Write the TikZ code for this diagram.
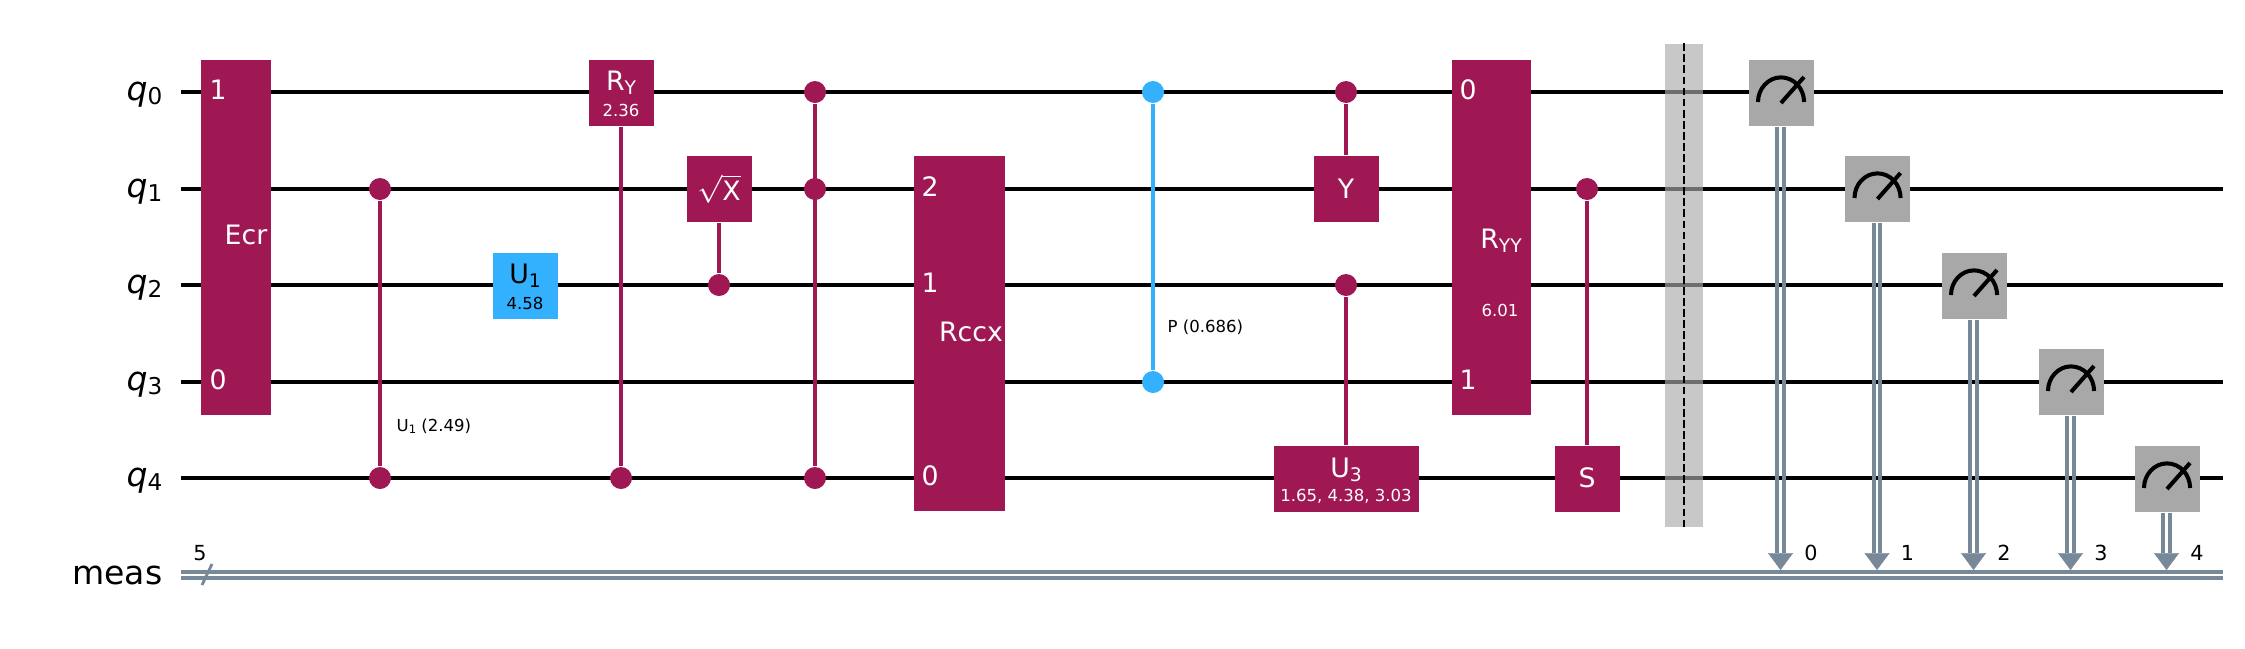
\documentclass[tikz,border=0pt]{standalone}
\usepackage{fontspec}
\setmainfont{DejaVu Sans}
\usetikzlibrary{arrows.meta}
\definecolor{gatered}{HTML}{9F1853}
\definecolor{gateblue}{HTML}{33B1FF}
\definecolor{gategray}{HTML}{A8A8A8}
\definecolor{cregblue}{HTML}{778899}
\definecolor{barriergray}{HTML}{AAAAAA}
\newcommand{\subidx}[1]{\raisebox{-.15em}{\scalebox{.7}{#1}}}
\tikzset{
  gate/.style={fill=gatered,inner sep=0pt,text=white,font=\fontsize{7.6}{9}\selectfont},
  onewide/.style={minimum width=65*0.01cm,minimum height=66*0.01cm},
  gatetxt/.style={anchor=base,text=white,inner sep=0pt,font=\fontsize{7.6}{9}\selectfont},
  smalltxt/.style={text=white,inner sep=0pt,font=\fontsize{4.7}{6}\selectfont},
  wire/.style={line width=1.15pt,black},
  ctrl/.style={circle,fill=#1,inner sep=0pt,minimum size=22*0.01cm},
  ctrlline/.style={line width=1.1pt,#1},
  cline/.style={line width=1.15pt,cregblue},
  meter/.style={line width=1.15pt,black},
  regname/.style={anchor=base east,inner sep=0pt,font=\fontsize{9.4}{11}\selectfont},
  sidetxt/.style={inner sep=0pt,black,font=\fontsize{4.7}{6}\selectfont},
  bitnum/.style={inner sep=0pt,black,font=\fontsize{5.9}{7}\selectfont}
}
\begin{document}
\begin{tikzpicture}[x=0.01cm,y=-0.01cm]
\useasboundingbox (0,0) rectangle (2245,648);

% qubit wires
\foreach \i/\y in {0/92,1/189,2/285,3/382,4/478}{
  \node[regname] (lq\i) at (163,\y+8) {\textit{q}\subidx{\i}};
  \coordinate (wl\i) at (181,\y);
  \coordinate (wr\i) at (2223,\y);
  \draw[wire] (wl\i)--(wr\i);
}

% classical register
\node[regname] (lmeas) at (163,584) {meas};
\coordinate (cl) at (181,575);
\coordinate (cr) at (2223,575);
\draw[cline] ([shift={(0,-3.1)}]cl)--([shift={(0,-3.1)}]cr);
\draw[cline] ([shift={(0,3.1)}]cl)--([shift={(0,3.1)}]cr);
\draw[line width=.8pt,cregblue] (202,585)--(212,564);
\node[bitnum] (cnum) at (200,553) {5};

% ecr
\node[gate,minimum width=70*0.01cm,minimum height=355*0.01cm] (ecr) at (235.5,237.5) {};
\node[gatetxt] (ecrone) at (218,99) {1};
\node[gatetxt] (ecrzero) at (218,389) {0};
\node[gatetxt] (ecrtxt) at (246,244) {Ecr};

% controlled u1
\node[ctrl=gatered] (cua) at (380,189) {};
\node[ctrl=gatered] (cub) at (380,478) {};
\draw[ctrlline=gatered] (cua)--(cub);
\node[sidetxt,anchor=west] (cutxt) at (396,426) {U\subidx{1} (2.49)};

% u1
\node[gate,onewide,fill=gateblue] (uone) at (525,286) {};
\node[gatetxt,text=black] (uonetxt) at (525,283) {U\subidx{1}};
\node[smalltxt,text=black] (uonepar) at (525,303) {4.58};

% controlled ry
\node[gate,onewide] (ry) at (621,93) {};
\node[gatetxt] (rytxt) at (621,90) {R\subidx{Y}};
\node[smalltxt] (rypar) at (621,110) {2.36};
\node[ctrl=gatered] (cry) at (621,478) {};
\draw[ctrlline=gatered] (ry)--(cry);

% controlled sqrt x
\node[gate,onewide] (sx) at (719,189) {$\sqrt{\mbox{X}}$};
\node[ctrl=gatered] (csx) at (719,285) {};
\draw[ctrlline=gatered] (sx)--(csx);

% ccz
\node[ctrl=gatered] (cza) at (815,92) {};
\node[ctrl=gatered] (czb) at (815,189) {};
\node[ctrl=gatered] (czc) at (815,478) {};
\draw[ctrlline=gatered] (cza)--(czc);

% rccx
\node[gate,minimum width=91*0.01cm,minimum height=355*0.01cm] (rccx) at (959.5,333.5) {};
\node[gatetxt] (rccxtwo) at (930,196) {2};
\node[gatetxt] (rccxone) at (930,292) {1};
\node[gatetxt] (rccxzero) at (930,485) {0};
\node[gatetxt] (rccxtxt) at (971,341.5) {Rccx};

% controlled phase
\node[ctrl=gateblue] (cpa) at (1153,92) {};
\node[ctrl=gateblue] (cpb) at (1153,382) {};
\draw[ctrlline=gateblue] (cpa)--(cpb);
\node[sidetxt,anchor=west] (cptxt) at (1167,327) {P (0.686)};

% controlled y
\node[ctrl=gatered] (cy) at (1346,92) {};
\node[gate,onewide] (ygate) at (1346,189) {Y};
\draw[ctrlline=gatered] (cy)--(ygate);

% controlled u3
\node[gate,minimum width=145*0.01cm,minimum height=66*0.01cm] (uthree) at (1346,479) {};
\node[gatetxt] (uthreetxt) at (1346,477) {U\subidx{3}};
\node[smalltxt] (uthreepar) at (1346,496) {1.65, 4.38, 3.03};
\node[ctrl=gatered] (cuthree) at (1346,285) {};
\draw[ctrlline=gatered] (cuthree)--(uthree);

% ryy
\node[gate,minimum width=79*0.01cm,minimum height=355*0.01cm] (ryy) at (1491.5,237.5) {};
\node[gatetxt] (ryyzero) at (1468,99) {0};
\node[gatetxt] (ryyone) at (1468,389) {1};
\node[gatetxt] (ryytxt) at (1501,248) {R\subidx{YY}};
\node[smalltxt] (ryypar) at (1500,310) {6.01};

% controlled s
\node[ctrl=gatered] (cs) at (1587,189) {};
\node[gate,onewide] (sgate) at (1587,479) {};
\node[gatetxt] (sgatetxt) at (1587,487) {S};
\draw[ctrlline=gatered] (cs)--(sgate);

% barrier
\node[fill=barriergray,fill opacity=.65,minimum width=38*0.01cm,minimum height=483*0.01cm,inner sep=0pt] (brr) at (1684,285.5) {};
\draw[line width=.55pt,black,dash pattern=on 2.2pt off .95pt] (brr.north)--(brr.south);

% measurements
\foreach \i/\x/\y in {0/1781/93,1/1877.5/189,2/1974/286,3/2071/382,4/2167/479}{
  \coordinate (tip\i) at (\x-.5,570);
  \coordinate (neck\i) at (\x-.5,553);
  \node[gate,onewide,fill=gategray] (m\i) at (\x,\y) {};
  \draw[cline] ([shift={(-3.7,0)}]m\i.south)--([shift={(-3.2,0)}]neck\i);
  \draw[cline] ([shift={(2.7,0)}]m\i.south)--([shift={(3.2,0)}]neck\i);
  \draw[line width=.1pt,cregblue,-{Triangle[width=7.1pt,length=4.8pt]}] (neck\i)--(tip\i);
  \draw[meter] ([shift={(-23,9)}]m\i.center) arc[start angle=180,end angle=0,x radius=6.55pt,y radius=7pt];
  \draw[meter] ([shift={(0,10)}]m\i.center)--([shift={(23,-16)}]m\i.center);
  \node[bitnum] (bit\i) at (\x+30,553) {\i};
}
\end{tikzpicture}
\end{document}
